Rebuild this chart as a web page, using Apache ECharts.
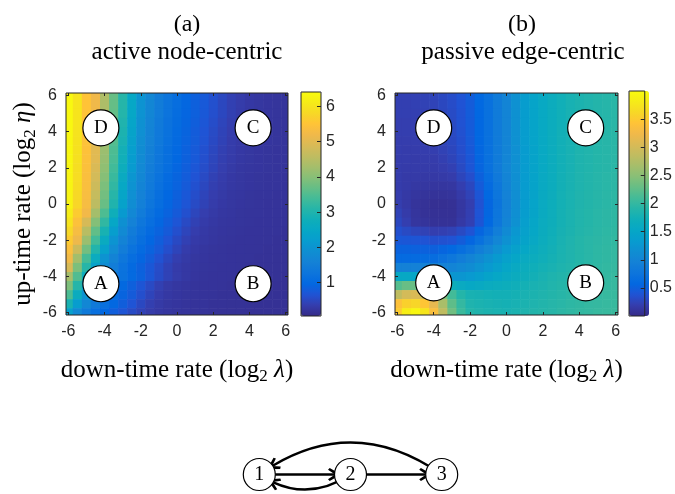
<!DOCTYPE html>
<html>
<head>
<meta charset="utf-8">
<script src="https://cdn.jsdelivr.net/npm/echarts@6/dist/echarts.min.js"></script>
<style>html,body{margin:0;padding:0;background:#fff}#chart{width:675px;height:494px}</style>
</head>
<body>
<div id="chart"></div>
<script>
// ---------------- data ----------------
const xValues = [-6,-5.5,-5,-4.5,-4,-3.5,-3,-2.5,-2,-1.5,-1,-0.5,0,0.5,1,1.5,2,2.5,3,3.5,4,4.5,5,5.5,6];
const yValues = [6,5.5,5,4.5,4,3.5,3,2.5,2,1.5,1,0.5,0,-0.5,-1,-1.5,-2,-2.5,-3,-3.5,-4,-4.5,-5,-5.5,-6];

// (a) active node-centric : rows follow yValues (top to bottom), columns follow xValues
const valuesA = [
[6.35,6.0,5.5,5.2,4.4,3.7,3.1,2.5,2.0,1.7,1.45,1.25,1.1,0.95,0.85,0.75,0.62,0.5,0.4,0.33,0.28,0.25,0.23,0.22,0.21],
[6.35,6.0,5.5,5.19,4.38,3.68,3.08,2.48,1.98,1.69,1.44,1.24,1.09,0.94,0.84,0.74,0.61,0.49,0.39,0.33,0.28,0.25,0.23,0.22,0.21],
[6.35,6.0,5.49,5.18,4.37,3.67,3.06,2.47,1.98,1.69,1.43,1.23,1.08,0.93,0.84,0.73,0.6,0.49,0.39,0.32,0.28,0.25,0.23,0.22,0.21],
[6.35,5.99,5.49,5.14,4.33,3.63,3.01,2.41,1.94,1.64,1.4,1.2,1.05,0.92,0.82,0.7,0.57,0.46,0.37,0.31,0.27,0.24,0.23,0.22,0.21],
[6.35,5.98,5.48,5.1,4.29,3.58,2.96,2.36,1.9,1.61,1.37,1.18,1.02,0.9,0.79,0.67,0.54,0.44,0.35,0.3,0.26,0.24,0.23,0.22,0.21],
[6.34,5.97,5.46,5.06,4.25,3.54,2.91,2.32,1.87,1.58,1.35,1.16,1.0,0.88,0.78,0.65,0.52,0.42,0.34,0.29,0.26,0.24,0.23,0.22,0.21],
[6.34,5.95,5.45,5.0,4.19,3.48,2.84,2.25,1.83,1.54,1.31,1.13,0.98,0.86,0.75,0.62,0.49,0.39,0.33,0.28,0.25,0.23,0.22,0.21,0.21],
[6.33,5.93,5.44,4.98,4.15,3.44,2.8,2.21,1.8,1.51,1.29,1.12,0.96,0.85,0.74,0.6,0.47,0.38,0.32,0.27,0.25,0.23,0.22,0.21,0.21],
[6.32,5.9,5.42,4.9,4.08,3.37,2.72,2.14,1.75,1.47,1.25,1.09,0.93,0.82,0.7,0.57,0.45,0.36,0.3,0.26,0.24,0.23,0.22,0.21,0.21],
[6.3,5.88,5.39,4.82,3.99,3.29,2.62,2.05,1.7,1.42,1.21,1.04,0.9,0.79,0.66,0.53,0.41,0.34,0.28,0.25,0.23,0.22,0.21,0.21,0.2],
[6.29,5.85,5.37,4.74,3.89,3.2,2.52,1.97,1.64,1.38,1.17,1.0,0.88,0.76,0.62,0.49,0.38,0.32,0.27,0.25,0.23,0.22,0.21,0.21,0.2],
[6.27,5.81,5.34,4.65,3.81,3.1,2.43,1.91,1.59,1.33,1.13,0.97,0.85,0.72,0.58,0.45,0.35,0.3,0.26,0.24,0.22,0.21,0.21,0.2,0.2],
[6.25,5.77,5.31,4.55,3.71,3.01,2.34,1.85,1.53,1.28,1.1,0.93,0.82,0.68,0.54,0.42,0.33,0.28,0.25,0.23,0.22,0.21,0.2,0.2,0.2],
[6.14,5.61,5.21,4.28,3.48,2.78,2.13,1.72,1.43,1.2,1.02,0.88,0.76,0.61,0.47,0.36,0.3,0.26,0.24,0.22,0.21,0.21,0.2,0.2,0.19],
[6.0,5.44,4.86,3.96,3.2,2.48,1.92,1.58,1.31,1.11,0.94,0.82,0.68,0.53,0.41,0.32,0.27,0.24,0.23,0.22,0.21,0.2,0.2,0.19,0.19],
[5.8,5.31,4.5,3.65,2.9,2.23,1.77,1.45,1.21,1.03,0.88,0.76,0.6,0.46,0.35,0.29,0.25,0.23,0.22,0.21,0.2,0.2,0.19,0.19,0.18],
[5.6,5.16,4.19,3.37,2.62,1.99,1.62,1.34,1.13,0.95,0.82,0.67,0.52,0.4,0.31,0.27,0.24,0.22,0.21,0.2,0.2,0.19,0.19,0.18,0.18],
[5.41,4.74,3.81,3.03,2.31,1.81,1.47,1.22,1.03,0.88,0.75,0.59,0.45,0.34,0.28,0.24,0.22,0.21,0.2,0.2,0.19,0.19,0.18,0.18,0.18],
[5.23,4.27,3.41,2.64,1.98,1.61,1.32,1.09,0.93,0.8,0.64,0.49,0.37,0.3,0.25,0.23,0.21,0.21,0.2,0.19,0.19,0.18,0.18,0.17,0.17],
[4.88,3.89,3.09,2.34,1.81,1.46,1.21,1.01,0.86,0.72,0.56,0.42,0.32,0.27,0.24,0.22,0.21,0.2,0.2,0.19,0.18,0.18,0.17,0.17,0.17],
[4.3,3.5,2.7,2.0,1.62,1.35,1.18,1.0,0.87,0.71,0.55,0.42,0.33,0.27,0.23,0.21,0.2,0.2,0.19,0.18,0.18,0.17,0.17,0.17,0.16],
[3.91,3.08,2.31,1.78,1.44,1.19,0.99,0.84,0.69,0.53,0.39,0.3,0.26,0.23,0.21,0.2,0.2,0.19,0.18,0.18,0.17,0.17,0.17,0.16,0.16],
[3.46,2.65,1.97,1.58,1.29,1.08,0.9,0.77,0.6,0.45,0.34,0.27,0.24,0.22,0.21,0.2,0.19,0.18,0.18,0.17,0.17,0.17,0.16,0.16,0.16],
[2.92,2.19,1.71,1.39,1.15,0.96,0.82,0.67,0.51,0.38,0.3,0.25,0.23,0.21,0.2,0.2,0.18,0.18,0.17,0.17,0.17,0.16,0.16,0.16,0.16],
[2.3,1.75,1.4,1.15,0.96,0.82,0.68,0.54,0.42,0.33,0.27,0.24,0.22,0.21,0.2,0.19,0.18,0.17,0.17,0.17,0.16,0.16,0.16,0.16,0.16]
];

// (b) passive edge-centric
const valuesB = [
[0.22,0.22,0.22,0.23,0.25,0.29,0.33,0.39,0.47,0.58,0.7,0.85,1.0,1.18,1.35,1.47,1.57,1.66,1.73,1.79,1.83,1.86,1.89,1.91,1.93],
[0.21,0.21,0.22,0.23,0.24,0.28,0.32,0.38,0.46,0.58,0.7,0.85,1.0,1.18,1.35,1.47,1.57,1.66,1.73,1.79,1.83,1.86,1.89,1.91,1.93],
[0.21,0.21,0.21,0.22,0.23,0.27,0.31,0.37,0.46,0.57,0.7,0.85,1.0,1.18,1.35,1.47,1.57,1.66,1.73,1.79,1.83,1.86,1.89,1.91,1.93],
[0.2,0.2,0.2,0.21,0.22,0.26,0.3,0.37,0.45,0.57,0.7,0.85,1.0,1.18,1.35,1.47,1.57,1.66,1.73,1.79,1.83,1.86,1.89,1.91,1.93],
[0.2,0.2,0.2,0.21,0.22,0.26,0.3,0.36,0.45,0.57,0.7,0.85,1.0,1.18,1.35,1.47,1.57,1.66,1.74,1.79,1.84,1.87,1.9,1.92,1.94],
[0.19,0.19,0.19,0.2,0.21,0.25,0.29,0.35,0.44,0.57,0.7,0.85,1.0,1.18,1.35,1.47,1.57,1.66,1.74,1.79,1.84,1.87,1.9,1.92,1.94],
[0.19,0.18,0.18,0.19,0.2,0.23,0.27,0.34,0.43,0.56,0.7,0.85,1.0,1.17,1.34,1.46,1.57,1.66,1.74,1.79,1.84,1.87,1.9,1.92,1.94],
[0.18,0.18,0.17,0.18,0.18,0.21,0.25,0.32,0.41,0.55,0.7,0.85,1.01,1.17,1.34,1.46,1.57,1.66,1.74,1.79,1.84,1.87,1.9,1.92,1.94],
[0.18,0.17,0.17,0.17,0.17,0.19,0.22,0.3,0.4,0.54,0.7,0.86,1.02,1.17,1.33,1.46,1.57,1.66,1.74,1.79,1.84,1.87,1.9,1.92,1.94],
[0.18,0.16,0.16,0.15,0.15,0.16,0.18,0.26,0.34,0.5,0.66,0.83,1.0,1.16,1.33,1.45,1.58,1.66,1.75,1.8,1.85,1.88,1.91,1.93,1.95],
[0.18,0.16,0.14,0.13,0.12,0.12,0.13,0.2,0.28,0.45,0.62,0.8,0.98,1.15,1.33,1.45,1.58,1.66,1.75,1.8,1.85,1.88,1.91,1.93,1.95],
[0.19,0.15,0.12,0.1,0.09,0.09,0.1,0.16,0.24,0.4,0.58,0.77,0.96,1.14,1.33,1.46,1.59,1.67,1.76,1.81,1.86,1.89,1.92,1.94,1.96],
[0.2,0.15,0.1,0.08,0.06,0.06,0.07,0.13,0.2,0.37,0.55,0.75,0.95,1.14,1.33,1.47,1.6,1.68,1.76,1.81,1.86,1.89,1.92,1.94,1.96],
[0.24,0.17,0.11,0.08,0.07,0.07,0.07,0.13,0.21,0.39,0.56,0.77,0.97,1.16,1.35,1.48,1.61,1.69,1.77,1.82,1.87,1.9,1.93,1.95,1.97],
[0.28,0.2,0.12,0.1,0.08,0.08,0.08,0.15,0.22,0.4,0.58,0.79,1.0,1.19,1.38,1.5,1.62,1.7,1.77,1.82,1.87,1.9,1.93,1.95,1.97],
[0.35,0.3,0.26,0.23,0.2,0.21,0.23,0.3,0.38,0.54,0.71,0.9,1.09,1.26,1.42,1.53,1.64,1.71,1.78,1.83,1.88,1.91,1.94,1.96,1.98],
[0.42,0.41,0.4,0.38,0.35,0.36,0.38,0.46,0.55,0.7,0.85,1.02,1.18,1.32,1.45,1.56,1.66,1.73,1.8,1.85,1.9,1.93,1.95,1.97,1.99],
[0.52,0.52,0.51,0.51,0.5,0.54,0.59,0.67,0.76,0.9,1.02,1.17,1.3,1.42,1.52,1.61,1.69,1.75,1.81,1.86,1.9,1.93,1.96,1.98,2.0],
[0.62,0.62,0.62,0.63,0.65,0.72,0.8,0.89,0.98,1.09,1.2,1.31,1.42,1.51,1.6,1.66,1.72,1.77,1.82,1.86,1.9,1.93,1.96,1.98,2.0],
[0.95,0.95,0.95,0.95,0.95,0.97,1.0,1.06,1.12,1.21,1.3,1.4,1.5,1.58,1.65,1.71,1.76,1.8,1.84,1.88,1.92,1.95,1.97,1.99,2.01],
[1.55,1.55,1.5,1.45,1.4,1.3,1.25,1.25,1.3,1.37,1.45,1.52,1.58,1.64,1.7,1.75,1.8,1.84,1.88,1.92,1.95,1.97,1.99,2.0,2.02],
[2.2,2.3,2.3,2.2,2.05,1.85,1.7,1.6,1.55,1.58,1.62,1.65,1.68,1.72,1.76,1.8,1.83,1.87,1.9,1.93,1.96,1.98,2.0,2.01,2.02],
[2.85,3.0,3.05,2.95,2.75,2.4,2.1,1.9,1.8,1.78,1.76,1.75,1.75,1.77,1.8,1.83,1.86,1.89,1.92,1.95,1.97,1.99,2.0,2.02,2.03],
[3.4,3.55,3.6,3.45,3.15,2.7,2.25,2.0,1.85,1.82,1.8,1.78,1.77,1.79,1.82,1.85,1.88,1.91,1.93,1.96,1.98,2.0,2.01,2.02,2.03],
[3.5,3.85,3.95,3.75,3.35,2.85,2.35,2.05,1.9,1.86,1.83,1.81,1.8,1.82,1.85,1.88,1.9,1.92,1.95,1.97,1.99,2.0,2.02,2.03,2.04]
];

const axisTicks = [-6,-4,-2,0,2,4,6];
const colorbarTicksA = [1,2,3,4,5,6];
const colorbarTicksB = [0.5,1,1.5,2,2.5,3,3.5];
const colorRangeA = [0.05, 6.41];
const colorRangeB = [0.0, 4.0];
const axisRange = [-6.125, 6.125];

const markerNames = ['D','C','A','B'];
const markerXA = [-4.2, 4.2, -4.2, 4.2];
const markerYA = [4.2, 4.2, -4.4, -4.4];
const markerXB = [-4.0, 4.35, -4.0, 4.35];
const markerYB = [4.2, 4.2, -4.35, -4.35];

const nodeNames = ['1','2','3'];
const nodeX = [1, 2, 3];
const nodeY = [0, 0, 0];
const edgeSource = ['1','2','2','3'];
const edgeTarget = ['2','1','3','1'];

// ---------------- styling ----------------
const PARULA = ['#352a87','#353dad','#2053d4','#0268e1','#0d75dc','#1481d6','#108ed2','#079ccf','#06a7c6','#0faeb9','#25b5a9','#42bb98','#65be86','#87bf77','#a5be6b','#c0bc60','#d9ba56','#f1b94a','#ffc337','#f7d826','#f5eb18','#f9fb0e'];
const SANS = "'Liberation Sans', Arial, Helvetica, sans-serif";
const SERIF = "'Liberation Serif', 'Times New Roman', serif";
const INK = '#262626';
const HALF = (xValues[1] - xValues[0]) / 2;
const edgeCurveness = {'1-2': 0, '2-1': 0.33, '2-3': 0, '3-1': -0.35};

function cells(values) {
  const out = [];
  yValues.forEach((y, i) => xValues.forEach((x, j) => out.push([x, y, values[i][j]])));
  return out;
}

function renderCell(params, api) {
  const x = api.value(0), y = api.value(1);
  const p0 = api.coord([x - HALF, y + HALF]);
  const p1 = api.coord([x + HALF, y - HALF]);
  const cs = params.coordSys;
  const shape = echarts.graphic.clipRectByRect(
    {x: p0[0], y: p0[1], width: p1[0] - p0[0] + 0.6, height: p1[1] - p0[1] + 0.6},
    {x: cs.x, y: cs.y, width: cs.width, height: cs.height});
  return shape && {type: 'rect', shape: shape, style: {fill: api.visual('color')}};
}

const titleRich = {
  s: {fontFamily: SERIF, fontSize: 17, lineHeight: 17, verticalAlign: 'bottom', color: '#000'},
  i: {fontFamily: SERIF, fontSize: 25, fontStyle: 'italic', color: '#000'}
};
const nameStyle = {fontFamily: SERIF, fontSize: 25, lineHeight: 30, color: '#000', rich: titleRich};

function tickAxis(gridIndex, position, ticks, withLabels, extra) {
  return Object.assign({
    gridIndex: gridIndex, type: 'value', position: position,
    min: axisRange[0], max: axisRange[1],
    axisLine: {show: false, onZero: false},
    axisTick: {show: true, inside: true, length: 3, customValues: ticks, lineStyle: {color: INK, width: 1}},
    axisLabel: withLabels ? {show: true, customValues: ticks, margin: 9, color: INK, fontFamily: SANS, fontSize: 16}
                          : {show: false},
    splitLine: {show: false},
    z: 11
  }, extra || {});
}

function colorbarAxis(gridIndex, range, ticks) {
  return {
    gridIndex: gridIndex, type: 'value', position: 'right', min: range[0], max: range[1],
    axisLine: {show: false, onZero: false},
    axisTick: {show: true, inside: true, length: 4, customValues: ticks, lineStyle: {color: INK}},
    axisLabel: {show: true, customValues: ticks, margin: 5, color: INK, fontFamily: SANS, fontSize: 16,
                formatter: v => String(v)},
    splitLine: {show: false},
    z: 11
  };
}

function markerSeries(xAxisIndex, xs, ys) {
  return {
    type: 'scatter', xAxisIndex: xAxisIndex, yAxisIndex: xAxisIndex, z: 5, silent: true,
    symbol: 'circle', symbolSize: 36,
    itemStyle: {color: '#ffffff', borderColor: '#000', borderWidth: 1.2, opacity: 1},
    label: {show: true, position: 'inside', formatter: '{b}', fontFamily: SERIF, fontSize: 19, color: '#000'},
    data: markerNames.map((n, i) => ({name: n, value: [xs[i], ys[i]]}))
  };
}

const gridBox = {show: true, borderColor: INK, borderWidth: 1, backgroundColor: 'transparent', z: 10};
const hiddenAxis = {type: 'value', show: false, axisLine: {onZero: false}};

const option = {
  animation: false,
  backgroundColor: '#ffffff',
  title: [
    {text: '(a)', left: 187, top: 13, textAlign: 'center', padding: 0,
     textStyle: {fontFamily: SERIF, fontSize: 24, fontWeight: 'normal', color: '#000'}},
    {text: 'active node-centric', left: 187, top: 40, textAlign: 'center', padding: 0,
     textStyle: {fontFamily: SERIF, fontSize: 25, fontWeight: 'normal', color: '#000'}},
    {text: '(b)', left: 522, top: 13, textAlign: 'center', padding: 0,
     textStyle: {fontFamily: SERIF, fontSize: 24, fontWeight: 'normal', color: '#000'}},
    {text: 'passive edge-centric', left: 523, top: 40, textAlign: 'center', padding: 0,
     textStyle: {fontFamily: SERIF, fontSize: 25, fontWeight: 'normal', color: '#000'}}
  ],
  grid: [
    Object.assign({left: 66, top: 93, width: 222, height: 222}, gridBox),
    Object.assign({left: 301, top: 92, width: 20, height: 224}, gridBox),
    Object.assign({left: 395, top: 93, width: 223, height: 222}, gridBox),
    Object.assign({left: 629, top: 91, width: 20, height: 225}, gridBox),
    {left: 259.3, top: 455, width: 182.4, height: 40, show: false}
  ],
  xAxis: [
    tickAxis(0, 'bottom', axisTicks, true, {name: 'down-time rate (log{s|2} {i|λ})', nameLocation: 'middle', nameGap: 40, nameTextStyle: nameStyle}),
    tickAxis(0, 'top', axisTicks, false),
    Object.assign({gridIndex: 1, min: 0, max: 1}, hiddenAxis),
    tickAxis(2, 'bottom', axisTicks, true, {name: 'down-time rate (log{s|2} {i|λ})', nameLocation: 'middle', nameGap: 40, nameTextStyle: nameStyle}),
    tickAxis(2, 'top', axisTicks, false),
    Object.assign({gridIndex: 3, min: 0, max: 1}, hiddenAxis),
    Object.assign({gridIndex: 4, min: 1, max: 3}, hiddenAxis)
  ],
  yAxis: [
    tickAxis(0, 'left', axisTicks, true, {name: 'up-time rate (log{s|2} {i|η})', nameLocation: 'middle', nameGap: 20, nameRotate: 90, nameTextStyle: nameStyle}),
    tickAxis(0, 'right', axisTicks, false),
    colorbarAxis(1, colorRangeA, colorbarTicksA),
    tickAxis(2, 'left', axisTicks, true),
    tickAxis(2, 'right', axisTicks, false),
    colorbarAxis(3, colorRangeB, colorbarTicksB),
    Object.assign({gridIndex: 4, min: -1, max: 1}, hiddenAxis)
  ],
  visualMap: [
    {type: 'continuous', seriesIndex: 0, dimension: 2, min: colorRangeA[0], max: colorRangeA[1],
     inRange: {color: PARULA}, show: true, calculable: false, hoverLink: false, orient: 'vertical',
     left: 301, top: 92, itemWidth: 20, itemHeight: 224, padding: 0},
    {type: 'continuous', seriesIndex: 2, dimension: 2, min: colorRangeB[0], max: colorRangeB[1],
     inRange: {color: PARULA}, show: true, calculable: false, hoverLink: false, orient: 'vertical',
     left: 629, top: 91, itemWidth: 20, itemHeight: 225, padding: 0}
  ],
  series: [
    {type: 'custom', xAxisIndex: 0, yAxisIndex: 0, renderItem: renderCell, data: cells(valuesA), silent: true, z: 2},
    markerSeries(0, markerXA, markerYA),
    {type: 'custom', xAxisIndex: 3, yAxisIndex: 3, renderItem: renderCell, data: cells(valuesB), silent: true, z: 2},
    markerSeries(3, markerXB, markerYB),
    {
      type: 'graph', coordinateSystem: 'cartesian2d', xAxisIndex: 6, yAxisIndex: 6,
      silent: true, roam: false,
      symbol: 'circle', symbolSize: 32,
      itemStyle: {color: '#ffffff', borderColor: '#000', borderWidth: 1.2},
      label: {show: true, position: 'inside', fontFamily: SERIF, fontSize: 20, color: '#000'},
      edgeSymbol: ['none', 'path://M5,0 L10,8 L8.6,9.2 L5,4.2 L1.4,9.2 L0,8 Z'],
      edgeSymbolSize: 13,
      lineStyle: {color: '#000', width: 2.5, opacity: 1},
      data: nodeNames.map((n, i) => ({name: n, value: [nodeX[i], nodeY[i]]})),
      links: edgeSource.map((s, i) => ({
        source: s, target: edgeTarget[i],
        lineStyle: {curveness: edgeCurveness[s + '-' + edgeTarget[i]]}
      }))
    }
  ]
};

const chart = echarts.init(document.getElementById('chart'), null, {renderer: 'canvas'});
chart.setOption(option);
</script>
</body>
</html>
